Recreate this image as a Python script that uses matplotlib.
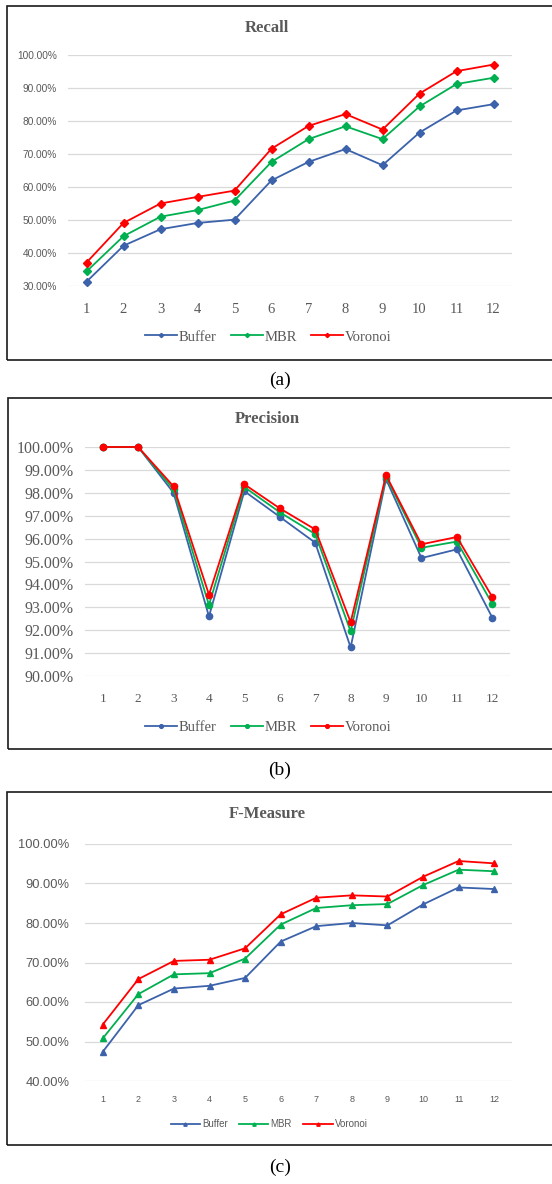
import numpy as np
import matplotlib.pyplot as plt
from matplotlib.patches import Rectangle
from matplotlib.ticker import FuncFormatter
from matplotlib.font_manager import FontProperties

# --- data ---
cases = list(range(1, 13))
series_names = ["Buffer", "MBR", "Voronoi"]

recall_buffer = [31.3, 42.2, 47.2, 49.1, 50.1, 62.0, 67.6, 71.5, 66.6, 76.5, 83.2, 85.1]
recall_mbr = [34.4, 45.1, 51.0, 53.0, 55.9, 67.6, 74.5, 78.4, 74.5, 84.4, 91.2, 93.1]
recall_voronoi = [37.1, 49.1, 55.0, 57.0, 58.9, 71.6, 78.5, 82.1, 77.4, 88.3, 95.1, 97.1]

precision_buffer = [100.0, 100.0, 98.0, 92.6, 98.07, 96.95, 95.82, 91.25, 98.6, 95.15, 95.53, 92.55]
precision_mbr = [100.0, 100.0, 98.15, 93.1, 98.25, 97.15, 96.2, 91.95, 98.7, 95.6, 95.87, 93.15]
precision_voronoi = [100.0, 100.0, 98.28, 93.55, 98.37, 97.32, 96.4, 92.35, 98.77, 95.75, 96.07, 93.45]

fmeasure_buffer = [47.4, 59.2, 63.4, 64.1, 66.1, 75.3, 79.2, 80.0, 79.4, 84.7, 89.0, 88.6]
fmeasure_mbr = [50.8, 62.0, 67.0, 67.3, 71.0, 79.6, 83.8, 84.5, 84.8, 89.6, 93.5, 93.1]
fmeasure_voronoi = [54.3, 65.8, 70.4, 70.7, 73.6, 82.2, 86.4, 87.0, 86.7, 91.7, 95.7, 95.1]

colors = ["#3b62aa", "#00b050", "#ff0000"]

W, H = 552, 1184
fig = plt.figure(figsize=(W / 100, H / 100), dpi=100)


def fx(x):
    return x / W


def fy(y):
    return 1 - y / H


def add_axes(left, right, top, bottom):
    return fig.add_axes([fx(left), fy(bottom), fx(right) - fx(left), fy(top) - fy(bottom)])


def frame(left, top, bottom):
    fig.patches.append(Rectangle((fx(left), fy(bottom)), 1.05 - fx(left), fy(top) - fy(bottom),
                                 transform=fig.transFigure, fill=False, ec="#1a1a1a", lw=1.2))


def serif(s):
    return FontProperties(family="Liberation Serif", size=s)


def sans(s):
    return FontProperties(family="Liberation Sans", size=s)


def style(ax, ylo, yhi, step, ytick_font, xtick_font, xpad, ypad):
    ax.set_xlim(0.5, 12.5)
    ax.set_ylim(ylo, yhi)
    ax.set_yticks(np.arange(ylo, yhi + step / 2, step))
    ax.set_xticks(cases)
    ax.yaxis.set_major_formatter(FuncFormatter(lambda v, p: f"{v:.2f}%"))
    ax.grid(axis="y", color="#d9d9d9", lw=0.9)
    ax.set_axisbelow(True)
    for s in ax.spines.values():
        s.set_visible(False)
    ax.tick_params(length=0, colors="#595959")
    ax.tick_params(axis="x", pad=xpad)
    ax.tick_params(axis="y", pad=ypad)
    for t in ax.get_yticklabels():
        t.set_fontproperties(ytick_font)
    for t in ax.get_xticklabels():
        t.set_fontproperties(xtick_font)
    ax.patch.set_alpha(0)


def draw(ax, data, marker, ms):
    lines = []
    for vals, c, name in zip(data, colors, series_names):
        ln, = ax.plot(cases, vals, color=c, lw=1.3, marker=marker, ms=ms, label=name, clip_on=False)
        lines.append(ln)
    return lines


def title(y, text):
    fig.text(fx(267), fy(y), text, ha="center", va="center", fontproperties=serif(12),
             fontweight="bold", color="#595959")


# --- (a) Recall ---
frame(7, 6, 360)
ax1 = add_axes(68, 512, 55, 286)
lines = draw(ax1, [recall_buffer, recall_mbr, recall_voronoi], "D", 3.6)
style(ax1, 30, 100, 10, sans(7.3), serif(10.5), 12, 8)
title(28, "Recall")
fig.legend(lines, series_names, loc="center", bbox_to_anchor=(fx(268), fy(337)), ncol=3,
           frameon=False, prop=serif(10.5), handlelength=2.2, handletextpad=0.1,
           columnspacing=1.0, labelcolor="#595959", markerscale=0.6)
fig.text(fx(280), fy(380), "(a)", ha="center", va="center", fontproperties=serif(14))

# --- (b) Precision ---
frame(8, 398, 749)
ax2 = add_axes(85, 510, 447, 676)
lines = draw(ax2, [precision_buffer, precision_mbr, precision_voronoi], "o", 4.5)
style(ax2, 90, 100, 1, serif(11.5), serif(9.5), 12, 8)
title(419, "Precision")
fig.legend(lines, series_names, loc="center", bbox_to_anchor=(fx(268), fy(727)), ncol=3,
           frameon=False, prop=serif(10.5), handlelength=2.2, handletextpad=0.1,
           columnspacing=1.0, labelcolor="#595959", markerscale=0.6)
fig.text(fx(280), fy(770), "(b)", ha="center", va="center", fontproperties=serif(14))

# --- (c) F-Measure ---
frame(7, 792, 1145)
ax3 = add_axes(85, 512, 844, 1081)
lines = draw(ax3, [fmeasure_buffer, fmeasure_mbr, fmeasure_voronoi], "^", 4)
style(ax3, 40, 100, 10, sans(9.3), sans(6.5), 10, 11)
title(814, "F-Measure")
fig.legend(lines, series_names, loc="center", bbox_to_anchor=(fx(269), fy(1124)), ncol=3,
           frameon=False, prop=sans(7), handlelength=3.0, handletextpad=0.2,
           columnspacing=1.2, labelcolor="#595959", markerscale=0.6)
fig.text(fx(280), fy(1167), "(c)", ha="center", va="center", fontproperties=serif(14))

fig.savefig("out.png", dpi=100)
